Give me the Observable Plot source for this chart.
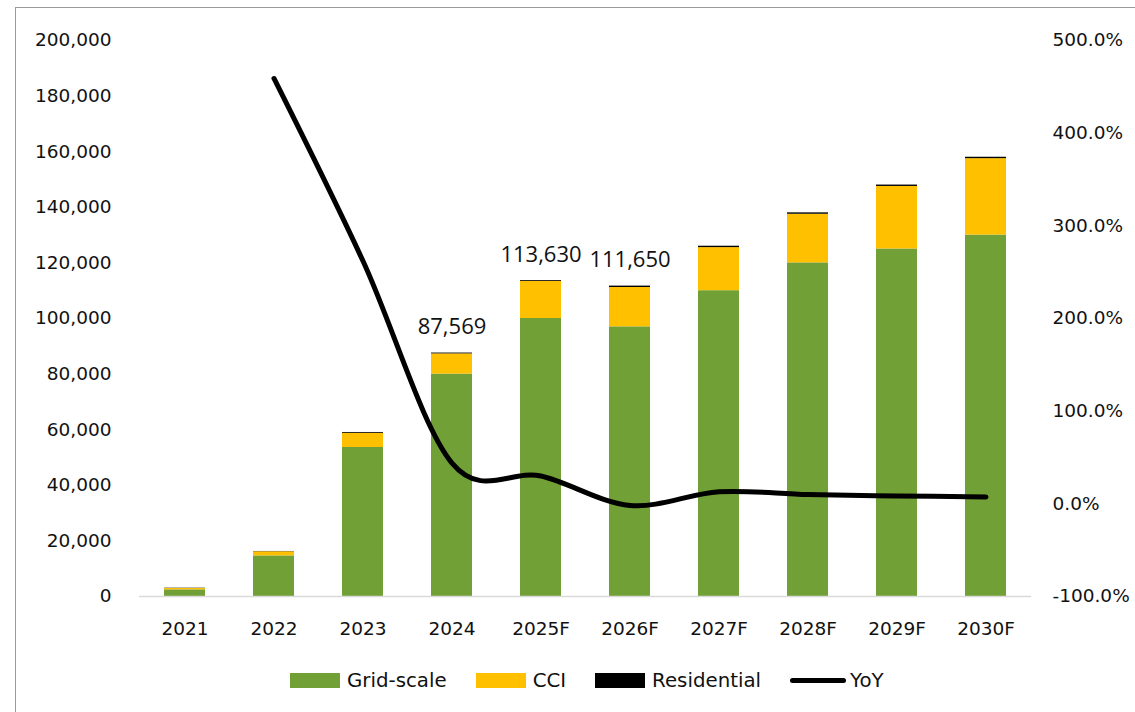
<!DOCTYPE html>
<html>
<head>
<meta charset="utf-8">
<script src="https://cdn.jsdelivr.net/npm/d3@7"></script>
<script src="https://cdn.jsdelivr.net/npm/@observablehq/plot@0.6"></script>
<style>
  html, body { margin: 0; padding: 0; background: #fff; }
  body { width: 1135px; height: 712px; position: relative; overflow: hidden; font-family: "DejaVu Sans", sans-serif; }
  #frame { position: absolute; left: 15px; top: 7px; width: 1200px; height: 800px; border: 1.5px solid #9a9a9a; box-sizing: border-box; }
  #chart { position: absolute; left: 0; top: 0; }
  #legend { position: absolute; left: 290px; top: 667px; height: 26px; display: flex; align-items: center; font-size: 19.8px; color: #111; }
  .item { display: flex; align-items: center; margin-right: 29px; }
  .sw { width: 50px; height: 15px; margin-right: 7px; }
  .ln { width: 56px; height: 5px; border-radius: 3px; background: #000; margin-right: 4px; }
</style>
</head>
<body>
<div id="frame"></div>
<div id="chart"></div>
<div id="legend"></div>
<script>
// ---- data ----
const years = ["2021", "2022", "2023", "2024", "2025F", "2026F", "2027F", "2028F", "2029F", "2030F"];
const gridScale = [2400, 14600, 53600, 80000, 100000, 97000, 110000, 120000, 125000, 130000];
const cci = [500, 1500, 5100, 7269, 13330, 14150, 15500, 17500, 22500, 27500];
const residential = [100, 100, 300, 300, 300, 500, 500, 500, 500, 500];
const yoy = [null, 459, 262, 44, 30, -1.7, 13, 10, 8.5, 7.5];
const labelYears = ["2024", "2025F", "2026F"];
const seriesNames = ["Grid-scale", "CCI", "Residential"];
const seriesColors = ["#71a036", "#ffc000", "#000000"];
const leftTicks = [0, 20000, 40000, 60000, 80000, 100000, 120000, 140000, 160000, 180000, 200000];
const rightTicks = [-100, 0, 100, 200, 300, 400, 500];

// ---- build tables ----
const seriesValues = [gridScale, cci, residential];
const barData = [];
years.forEach((yr, i) => {
  seriesNames.forEach((s, j) => barData.push({year: yr, series: s, value: seriesValues[j][i]}));
});
const totals = years.map((yr, i) => ({year: yr, total: gridScale[i] + cci[i] + residential[i]}));
const labelData = totals.filter(d => labelYears.includes(d.year));
const lineData = years.map((yr, i) => ({year: yr, yoy: yoy[i]})).filter(d => d.yoy !== null);

const toY = p => (p + 100) / 600 * 200000;
const fromY = v => { const r = Math.round((v * 600 / 200000 - 100) * 10) / 10; return Math.abs(r) < 1e-9 ? 0 : r; };

const chart = Plot.plot({
  width: 1135,
  height: 640,
  marginLeft: 139,
  marginRight: 104,
  marginTop: 40,
  marginBottom: 44,
  style: {fontFamily: "DejaVu Sans", fontSize: "18.5px", color: "#111", background: "transparent"},
  x: {domain: years, paddingInner: 0.54, paddingOuter: 0.27, label: null},
  y: {domain: [0, 200000], label: null},
  color: {domain: seriesNames, range: seriesColors},
  marks: [
    Plot.axisY({ticks: leftTicks, tickSize: 0, tickPadding: 28, tickFormat: d3.format(","), label: null}),
    Plot.axisY({anchor: "right", ticks: rightTicks.map(toY), tickSize: 0, tickPadding: 21,
                tickFormat: v => fromY(v).toFixed(1) + "%", label: null}),
    Plot.axisX({tickSize: 0, tickPadding: 25, label: null}),
    Plot.barY(barData, {x: "year", y: "value", fill: "series"}),
    Plot.ruleY([0], {stroke: "#d9d9d9", strokeWidth: 1.5}),
    Plot.line(lineData, {x: "year", y: d => toY(d.yoy), curve: "cardinal", tension: 0, stroke: "#000",
                         strokeWidth: 5, strokeLinecap: "round", strokeLinejoin: "round"}),
    Plot.text(labelData, {x: "year", y: "total", text: d => d3.format(",")(d.total), dy: -26,
                          fontSize: 22, fontFamily: "Open Sans", fill: "#111"})
  ]
});
document.getElementById("chart").appendChild(chart);

// ---- legend ----
const legend = document.getElementById("legend");
seriesNames.forEach((s, j) => {
  const it = document.createElement("div");
  it.className = "item";
  it.innerHTML = `<div class="sw" style="background:${seriesColors[j]}"></div><span>${s}</span>`;
  legend.appendChild(it);
});
const it = document.createElement("div");
it.className = "item";
it.innerHTML = `<div class="ln"></div><span>YoY</span>`;
legend.appendChild(it);
</script>
</body>
</html>
